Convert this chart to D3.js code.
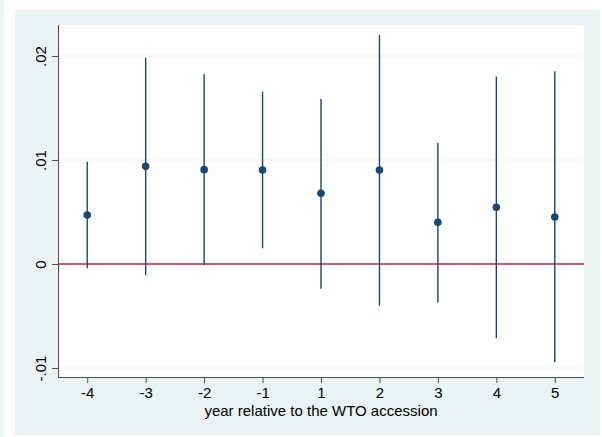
<!DOCTYPE html>
<html>
<head>
<meta charset="utf-8">
<script src="https://cdn.jsdelivr.net/npm/d3@7"></script>
<style>
  body { margin: 0; background: #fff; }
  svg { display: block; font-family: "Liberation Sans", Arial, sans-serif; }
  .axis path, .axis line { stroke: #4d4d4d; }
  .axis text { font-size: 15px; fill: #000; }
</style>
</head>
<body>
<svg width="602" height="437"></svg>
<script>
// Event-study estimates, years relative to WTO accession
var years = ['-4', '-3', '-2', '-1', '1', '2', '3', '4', '5'];
var coef = [0.00471, 0.00939, 0.00907, 0.00904, 0.0068, 0.00904, 0.00401, 0.00545, 0.00452];
var ciLow = [-0.00041, -0.00109, -0.00013, 0.00151, -0.00237, -0.00401, -0.00369, -0.00715, -0.00945];
var ciHigh = [0.00984, 0.01984, 0.01824, 0.01657, 0.01587, 0.02202, 0.01167, 0.01804, 0.01853];
var yTicks = [-0.01, 0, 0.01, 0.02];
var yTickLabels = ['-.01', '0', '.01', '.02'];

var svg = d3.select('svg');
var svgWidth = +svg.attr('width');
var svgHeight = +svg.attr('height');

// Outer graph region (Stata style light blue-grey)
svg.append('rect').attr('x', 0).attr('y', 0).attr('width', 4).attr('height', svgHeight).attr('fill', '#eaf2f3');
svg.append('rect').attr('x', 15).attr('y', 10).attr('width', 585).attr('height', 425).attr('fill', '#eaf2f3');

var plot = {l: 58, r: 584, t: 25, b: 377};

// Plot region
svg.append('rect')
    .attr('x', plot.l).attr('y', plot.t)
    .attr('width', plot.r - plot.l).attr('height', plot.b - plot.t)
    .attr('fill', '#fff');

var xScale = d3.scalePoint()
    .domain(years)
    .range([plot.l, plot.r])
    .padding(0.5);

var yScale = d3.scaleLinear()
    .domain([-(plot.b - 264) / 10400, (264 - plot.t) / 10400])
    .range([plot.b, plot.t]);

// Grid lines
svg.append('g').selectAll('line')
    .data(yTicks.filter(function(d){ return d !== 0; }))
    .enter().append('line')
    .attr('x1', plot.l).attr('x2', plot.r)
    .attr('y1', function(d){ return yScale(d); })
    .attr('y2', function(d){ return yScale(d); })
    .attr('stroke', '#eaf2f3')
    .attr('stroke-width', 1.2);

// Zero reference line
svg.append('line')
    .attr('x1', plot.l).attr('x2', plot.r)
    .attr('y1', yScale(0)).attr('y2', yScale(0))
    .attr('stroke', '#cc1f47')
    .attr('stroke-width', 1.6);

var data = years.map(function(y, i){
    return {year: y, b: coef[i], lo: ciLow[i], hi: ciHigh[i]};
});

// Confidence intervals
svg.append('g').selectAll('line')
    .data(data)
    .enter().append('line')
    .attr('x1', function(d){ return xScale(d.year); })
    .attr('x2', function(d){ return xScale(d.year); })
    .attr('y1', function(d){ return yScale(d.lo); })
    .attr('y2', function(d){ return yScale(d.hi); })
    .attr('stroke', '#1a476f')
    .attr('stroke-width', 1.4);

// Point estimates
svg.append('g').selectAll('circle')
    .data(data)
    .enter().append('circle')
    .attr('cx', function(d){ return xScale(d.year); })
    .attr('cy', function(d){ return yScale(d.b); })
    .attr('r', 3.8)
    .attr('fill', '#1a476f');

// Y axis
var yAxis = svg.append('g')
    .attr('class', 'axis')
    .attr('transform', 'translate(' + plot.l + ',0)')
    .call(d3.axisLeft(yScale)
        .tickValues(yTicks)
        .tickSize(6)
        .tickPadding(12)
        .tickFormat(function(d, i){ return yTickLabels[i]; }));
yAxis.select('.domain').attr('d', 'M0.5,' + plot.t + 'V' + plot.b);
yAxis.selectAll('.tick text')
    .attr('x', 0).attr('dy', null)
    .attr('transform', 'translate(-18,0) rotate(-90)')
    .attr('text-anchor', 'middle')
    .attr('dominant-baseline', 'central');

// X axis
var xAxis = svg.append('g')
    .attr('class', 'axis')
    .attr('transform', 'translate(0,' + plot.b + ')')
    .call(d3.axisBottom(xScale).tickSize(6).tickPadding(4));
xAxis.select('.domain').attr('d', 'M' + plot.l + ',0.5H' + plot.r);

// Axis title
svg.append('text')
    .attr('x', (plot.l + plot.r) / 2)
    .attr('y', 416)
    .attr('text-anchor', 'middle')
    .attr('font-size', 15)
    .text('year relative to the WTO accession');
</script>
</body>
</html>
